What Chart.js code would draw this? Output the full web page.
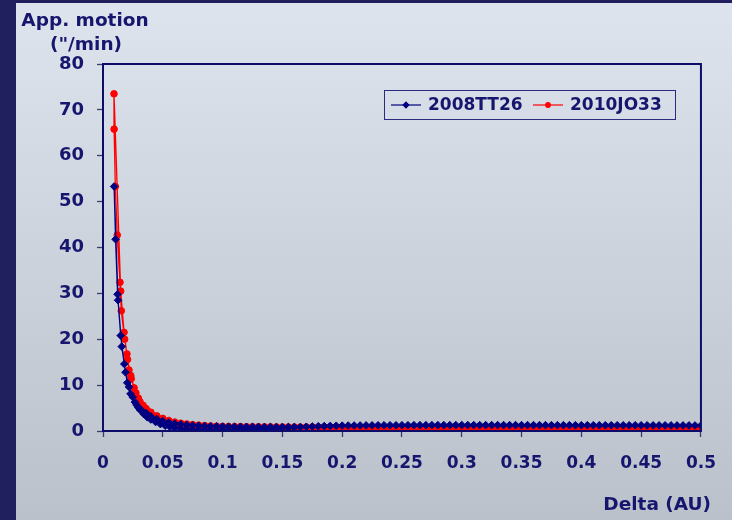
<!DOCTYPE html>
<html>
<head>
<meta charset="utf-8">
<script src="https://cdn.jsdelivr.net/npm/chart.js@4.4.0/dist/chart.umd.min.js"></script>
<style>
  html, body { margin: 0; padding: 0; background: #20205e; }
</style>
</head>
<body>
<canvas id="motionChart" width="732" height="520"></canvas>
<script>
// ephemeris points, in time order (inbound, close approach, outbound)
const deltaTT26 = [
  0.16, 0.155, 0.15, 0.145, 0.14, 0.135, 0.13, 0.125, 0.12, 0.115,
  0.11, 0.105, 0.1, 0.095, 0.09, 0.085, 0.08, 0.075, 0.07, 0.065,
  0.06, 0.055, 0.05, 0.045, 0.04, 0.036, 0.032, 0.0295, 0.0267, 0.023,
  0.0203, 0.0178, 0.0148, 0.0122, 0.0105, 0.0093,
  0.0126, 0.0157, 0.0188, 0.0218, 0.0248, 0.028, 0.031, 0.034,
  0.037, 0.04, 0.044, 0.048, 0.052, 0.056, 0.06, 0.065, 0.07, 0.075,
  0.08, 0.085, 0.09, 0.095, 0.1, 0.105, 0.11, 0.115, 0.12, 0.125,
  0.13, 0.135, 0.14, 0.145, 0.15, 0.155, 0.16, 0.165, 0.17, 0.175,
  0.18, 0.185, 0.19, 0.195, 0.2,
  0.205, 0.21, 0.215, 0.22, 0.225, 0.23, 0.235, 0.24, 0.245, 0.25,
  0.255, 0.26, 0.265, 0.27, 0.275, 0.28, 0.285, 0.29, 0.295, 0.3,
  0.305, 0.31, 0.315, 0.32, 0.325, 0.33, 0.335, 0.34, 0.345, 0.35,
  0.355, 0.36, 0.365, 0.37, 0.375, 0.38, 0.385, 0.39, 0.395, 0.4,
  0.405, 0.41, 0.415, 0.42, 0.425, 0.43, 0.435, 0.44, 0.445, 0.45,
  0.455, 0.46, 0.465, 0.47, 0.475, 0.48, 0.485, 0.49, 0.495, 0.5
];
const motionTT26 = [
  0.86, 0.86, 0.87, 0.87, 0.88, 0.88, 0.89, 0.9, 0.91, 0.92,
  0.93, 0.95, 0.97, 1.0, 1.03, 1.08, 1.14, 1.22, 1.32, 1.45,
  1.62, 1.85, 2.15, 2.6, 3.2, 3.9, 4.6, 5.1, 6.3, 8.1,
  10.5, 14.6, 20.8, 29.8, 41.8, 53.3,
  28.5, 18.4, 12.8, 9.6, 7.4, 5.7, 4.6, 3.7,
  3.0, 2.5, 1.95, 1.5, 1.15, 0.9, 0.7, 0.52, 0.4, 0.32,
  0.27, 0.24, 0.22, 0.21, 0.21, 0.22, 0.24, 0.27, 0.3, 0.34,
  0.39, 0.45, 0.51, 0.58, 0.65, 0.72, 0.79, 0.86, 0.92, 0.98,
  1.03, 1.07, 1.11, 1.14, 1.17,
  1.19, 1.2, 1.21, 1.22, 1.23, 1.24, 1.24, 1.25, 1.25, 1.26,
  1.26, 1.27, 1.27, 1.27, 1.28, 1.28, 1.28, 1.28, 1.29, 1.29,
  1.29, 1.29, 1.29, 1.29, 1.29, 1.29, 1.29, 1.29, 1.29, 1.28,
  1.28, 1.28, 1.28, 1.28, 1.27, 1.27, 1.27, 1.27, 1.26, 1.26,
  1.26, 1.26, 1.25, 1.25, 1.25, 1.25, 1.24, 1.24, 1.24, 1.24,
  1.23, 1.23, 1.23, 1.23, 1.22, 1.22, 1.22, 1.22, 1.21, 1.21
];

const deltaJO33 = [
  0.2, 0.195, 0.19, 0.185, 0.18, 0.175, 0.17, 0.165, 0.16, 0.155,
  0.15, 0.145, 0.14, 0.135, 0.13, 0.125, 0.12, 0.115, 0.11, 0.105,
  0.1, 0.095, 0.09, 0.085, 0.08, 0.075, 0.07, 0.065, 0.06, 0.055,
  0.05, 0.045, 0.04, 0.036, 0.0335, 0.0309, 0.0275, 0.0236, 0.0217, 0.02,
  0.0181, 0.0153, 0.0142, 0.0119, 0.0103, 0.0093, 0.0092,
  0.0148, 0.0176, 0.0205, 0.0232, 0.026, 0.0295, 0.033, 0.037,
  0.041, 0.045, 0.05, 0.055, 0.06, 0.065, 0.07, 0.075, 0.08, 0.085,
  0.09, 0.095, 0.1, 0.105, 0.11, 0.115, 0.12, 0.125, 0.13, 0.135,
  0.14, 0.145, 0.15, 0.155, 0.16, 0.165, 0.17, 0.175, 0.18, 0.185,
  0.19, 0.195, 0.2,
  0.205, 0.21, 0.215, 0.22, 0.225, 0.23, 0.235, 0.24, 0.245, 0.25,
  0.255, 0.26, 0.265, 0.27, 0.275, 0.28, 0.285, 0.29, 0.295, 0.3,
  0.305, 0.31, 0.315, 0.32, 0.325, 0.33, 0.335, 0.34, 0.345, 0.35,
  0.355, 0.36, 0.365, 0.37, 0.375, 0.38, 0.385, 0.39, 0.395, 0.4,
  0.405, 0.41, 0.415, 0.42, 0.425, 0.43, 0.435, 0.44, 0.445, 0.45,
  0.455, 0.46, 0.465, 0.47, 0.475, 0.48, 0.485, 0.49, 0.495, 0.5
];
const motionJO33 = [
  0.84, 0.84, 0.84, 0.85, 0.85, 0.85, 0.86, 0.86, 0.87, 0.87,
  0.88, 0.88, 0.89, 0.9, 0.91, 0.92, 0.93, 0.95, 0.96, 0.98,
  1.0, 1.05, 1.1, 1.18, 1.27, 1.38, 1.52, 1.7, 1.95, 2.3,
  2.75, 3.3, 4.1, 4.9, 5.6, 6.4, 8.3, 11.4, 13.3, 16.8,
  20, 26.2, 32.4, 42.7, 53.3, 65.8, 73.5,
  30.5, 21.5, 15.6, 12.1, 9.4, 7.2, 5.6, 4.4,
  3.5, 2.85, 2.25, 1.8, 1.45, 1.18, 0.97, 0.8, 0.67, 0.56,
  0.48, 0.42, 0.37, 0.33, 0.3, 0.28, 0.27, 0.26, 0.26, 0.27,
  0.28, 0.29, 0.3, 0.32, 0.34, 0.36, 0.38, 0.4, 0.42, 0.44,
  0.46, 0.48, 0.5,
  0.51, 0.52, 0.53, 0.53, 0.54, 0.55, 0.55, 0.56, 0.56, 0.57,
  0.57, 0.57, 0.58, 0.58, 0.58, 0.58, 0.58, 0.58, 0.58, 0.58,
  0.58, 0.58, 0.58, 0.57, 0.57, 0.57, 0.57, 0.57, 0.56, 0.56,
  0.56, 0.56, 0.55, 0.55, 0.55, 0.55, 0.54, 0.54, 0.54, 0.53,
  0.53, 0.53, 0.52, 0.52, 0.52, 0.51, 0.51, 0.51, 0.5, 0.5,
  0.5, 0.49, 0.49, 0.49, 0.48, 0.48, 0.47, 0.47, 0.46, 0.46
];

const xTickLabels = ['0', '0.05', '0.1', '0.15', '0.2', '0.25', '0.3', '0.35', '0.4', '0.45', '0.5'];
const yTickLabels = ['0', '10', '20', '30', '40', '50', '60', '70', '80'];

const NAVY = '#16166e';
const FONT = 'DejaVu Sans';

function toPoints(xs, ys) {
  return xs.map((x, i) => ({ x: x, y: ys[i] }));
}

// slide panel: navy frame with a soft grey-blue gradient
const panelBackground = {
  id: 'panelBackground',
  beforeDraw(chart) {
    const ctx = chart.ctx;
    ctx.save();
    ctx.fillStyle = '#20205e';
    ctx.fillRect(0, 0, chart.width, chart.height);
    const g = ctx.createLinearGradient(0, 3, 0, chart.height);
    g.addColorStop(0, '#dee4ed');
    g.addColorStop(1, '#bac1ca');
    ctx.fillStyle = g;
    ctx.fillRect(16, 3, chart.width - 16, chart.height - 3);
    ctx.restore();
  }
};

// box round the plot, axis titles and the boxed legend
const decorations = {
  id: 'decorations',
  afterDraw(chart) {
    const ctx = chart.ctx;
    const a = chart.chartArea;
    ctx.save();
    ctx.strokeStyle = '#0c0c6a';
    ctx.lineWidth = 2;
    ctx.strokeRect(a.left, a.top, a.right - a.left, a.bottom - a.top);

    ctx.fillStyle = NAVY;
    ctx.font = 'bold 18.5px "' + FONT + '"';
    ctx.textAlign = 'center';
    ctx.textBaseline = 'alphabetic';
    ctx.fillText('App. motion', 85, 26);
    ctx.fillText('("/min)', 86, 50);
    ctx.textAlign = 'right';
    ctx.fillText('Delta (AU)', 711, 510);

    // legend
    ctx.lineWidth = 1;
    ctx.strokeStyle = '#2a2a80';
    ctx.strokeRect(384.5, 90.5, 291, 29);
    const items = [
      { ds: chart.data.datasets[0], x: 391 },
      { ds: chart.data.datasets[1], x: 533 }
    ];
    const cy = 105;
    ctx.font = 'bold 17px "' + FONT + '"';
    ctx.textAlign = 'left';
    ctx.textBaseline = 'middle';
    items.forEach(it => {
      ctx.strokeStyle = it.ds.borderColor;
      ctx.lineWidth = 1.2;
      ctx.beginPath();
      ctx.moveTo(it.x, cy);
      ctx.lineTo(it.x + 30, cy);
      ctx.stroke();
      ctx.fillStyle = it.ds.pointBackgroundColor;
      ctx.strokeStyle = it.ds.pointBorderColor;
      Chart.helpers.drawPoint(ctx, {
        pointStyle: it.ds.pointStyle,
        radius: it.ds.pointRadius - 1,
        borderWidth: 1,
        rotation: 0
      }, it.x + 15, cy);
      ctx.fillStyle = NAVY;
      ctx.fillText(it.ds.label, it.x + 37, cy + 1);
    });
    ctx.restore();
  }
};

const ctx = document.getElementById('motionChart').getContext('2d');
const motionChart = new Chart(ctx, {
  type: 'scatter',
  data: {
    datasets: [{
      label: '2008TT26',
      data: toPoints(deltaTT26, motionTT26),
      showLine: true,
      borderColor: '#000080',
      borderWidth: 1.3,
      pointStyle: 'rectRot',
      pointRadius: 3.8,
      pointBackgroundColor: '#000080',
      pointBorderColor: '#000080',
      pointBorderWidth: 1
    }, {
      label: '2010JO33',
      data: toPoints(deltaJO33, motionJO33),
      showLine: true,
      borderColor: '#ff0000',
      borderWidth: 1.3,
      pointStyle: 'circle',
      pointRadius: 3.3,
      pointBackgroundColor: '#ff0000',
      pointBorderColor: '#ff0000',
      pointBorderWidth: 1
    }]
  },
  options: {
    responsive: false,
    animation: false,
    layout: { padding: { top: 64, right: 30, bottom: 0, left: 0 } },
    plugins: {
      legend: { display: false },
      tooltip: { enabled: false }
    },
    scales: {
      x: {
        type: 'linear',
        min: 0,
        max: 0.5,
        afterFit(scale) { scale.height = 89; },
        border: { display: false },
        grid: { drawOnChartArea: false, drawTicks: true, tickLength: 6, tickColor: '#3c3c72', tickWidth: 1.3 },
        ticks: {
          stepSize: 0.05,
          padding: 16,
          color: NAVY,
          font: { family: FONT, size: 17, weight: 'bold' },
          maxRotation: 0,
          autoSkip: false,
          callback: (v, i) => xTickLabels[i]
        }
      },
      y: {
        type: 'linear',
        min: 0,
        max: 80,
        afterFit(scale) { scale.width = 103; },
        border: { display: false },
        grid: { drawOnChartArea: false, drawTicks: true, tickLength: 6, tickColor: '#3c3c72', tickWidth: 1.3 },
        ticks: {
          stepSize: 10,
          padding: 13,
          color: NAVY,
          font: { family: FONT, size: 18, weight: 'bold' },
          callback: (v, i) => yTickLabels[i]
        }
      }
    }
  },
  plugins: [panelBackground, decorations]
});
</script>
</body>
</html>
